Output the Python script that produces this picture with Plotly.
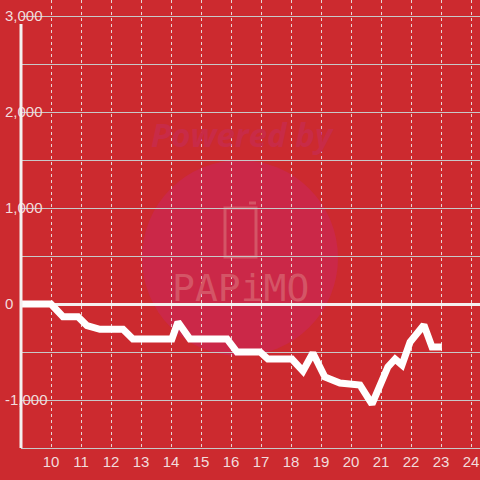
import plotly.graph_objects as go

# data
x_vals = [9.0, 10.0, 10.4, 10.9, 11.2, 11.63, 12.4, 12.73, 14.03, 14.23, 14.63, 15.87, 16.2,
          16.97, 17.23, 18.03, 18.4, 18.73, 19.13, 19.63, 20.3, 20.7, 21.23, 21.47, 21.7,
          21.97, 22.43, 22.7, 23.03]
y_vals = [0, 0, -132, -132, -226, -264, -264, -365, -365, -188, -365, -365, -500,
          -500, -573, -573, -698, -510, -760, -823, -844, -1042, -656, -573, -635,
          -396, -219, -448, -448]
y_tick_vals = [-1000, 0, 1000, 2000, 3000]
y_tick_text = ["-1,000", "0", "1,000", "2,000", "3,000"]
x_tick_vals = list(range(10, 25))

BG = "#CC2A2F"
W, H = 480, 480
L, B = 0, 32
plot_h = H - B

fig = go.Figure()
fig.add_trace(go.Scatter(x=x_vals, y=y_vals, mode="lines",
                         line=dict(color="white", width=7), hoverinfo="skip"))
fig.add_trace(go.Scatter(x=[], y=[], yaxis="y2", hoverinfo="skip", showlegend=False))

def px_x(p):
    return p / W

def px_y(p):
    return (plot_h - p) / plot_h

shapes = [
    # watermark circle
    dict(type="circle", xref="paper", yref="paper", layer="below",
         x0=px_x(142), x1=px_x(338), y0=px_y(356), y1=px_y(160),
         fillcolor="#CB2848", line=dict(width=0)),
    # phone icon
    dict(type="path", xref="paper", yref="paper", layer="below",
         path=("M {a},{b} L {c},{b} L {c},{d} L {a},{d} Z").format(
             a=px_x(225), b=px_y(208), c=px_x(256), d=px_y(257)),
         line=dict(color="#D45566", width=3)),
    dict(type="line", xref="paper", yref="paper", layer="below",
         x0=px_x(249), x1=px_x(256), y0=px_y(203), y1=px_y(203),
         line=dict(color="#D45566", width=3)),
    # y axis line
    dict(type="line", xref="paper", yref="paper", layer="above",
         x0=px_x(21), x1=px_x(21), y0=0, y1=px_y(24),
         line=dict(color="#F4F0F0", width=3)),
]

annotations = [
    dict(text="<b><i>Powered by</i></b>", xref="paper", yref="paper",
         x=px_x(242), y=px_y(134), yanchor="middle", xanchor="center", showarrow=False,
         font=dict(family="Open Sans", size=33, color="#C82B47")),
    dict(text="PAPiMO", xref="paper", yref="paper",
         x=px_x(240), y=px_y(288), showarrow=False,
         font=dict(family="DejaVu Sans Mono", size=38, color="#D45566")),
]

fig.update_layout(
    width=W, height=H,
    margin=dict(l=L, r=0, t=0, b=B, pad=0),
    paper_bgcolor=BG, plot_bgcolor=BG,
    showlegend=False,
    shapes=shapes, annotations=annotations,
    xaxis=dict(domain=[21 / W, 1], range=[9, 9 + 459 / 30], automargin=False,
               tickvals=x_tick_vals, showgrid=True, gridcolor="#E6D6D6",
               griddash="3px,3px", gridwidth=1, zeroline=False,
               showline=True, linecolor="#C8C8C8", linewidth=1,
               ticks="", tickfont=dict(family="Liberation Sans", size=15, color="#F2DCDC")),
    yaxis=dict(range=[-1500, 3000 + 16 / 96 * 1000], automargin=False,
               tickvals=[-1000, -500, 0, 500, 1000, 1500, 2000, 2500, 3000],
               showticklabels=False, showgrid=True, gridcolor="#C8C8C8", gridwidth=1,
               zeroline=True, zerolinecolor="#F4F0F0", zerolinewidth=3, showline=False, ticks=""),
    yaxis2=dict(overlaying="y", anchor="free", position=4 / W, side="right", automargin=False,
                range=[-1500, 3000 + 16 / 96 * 1000],
                tickvals=y_tick_vals, ticktext=y_tick_text, ticklabelposition="outside",
                showgrid=False, zeroline=False, showline=False, ticks="",
                tickfont=dict(family="Liberation Sans", size=15, color="#F2DCDC")),
)

fig.write_html("out.html", config={"displayModeBar": False},
               post_script="document.body.style.margin='0';document.body.style.overflow='hidden';")
